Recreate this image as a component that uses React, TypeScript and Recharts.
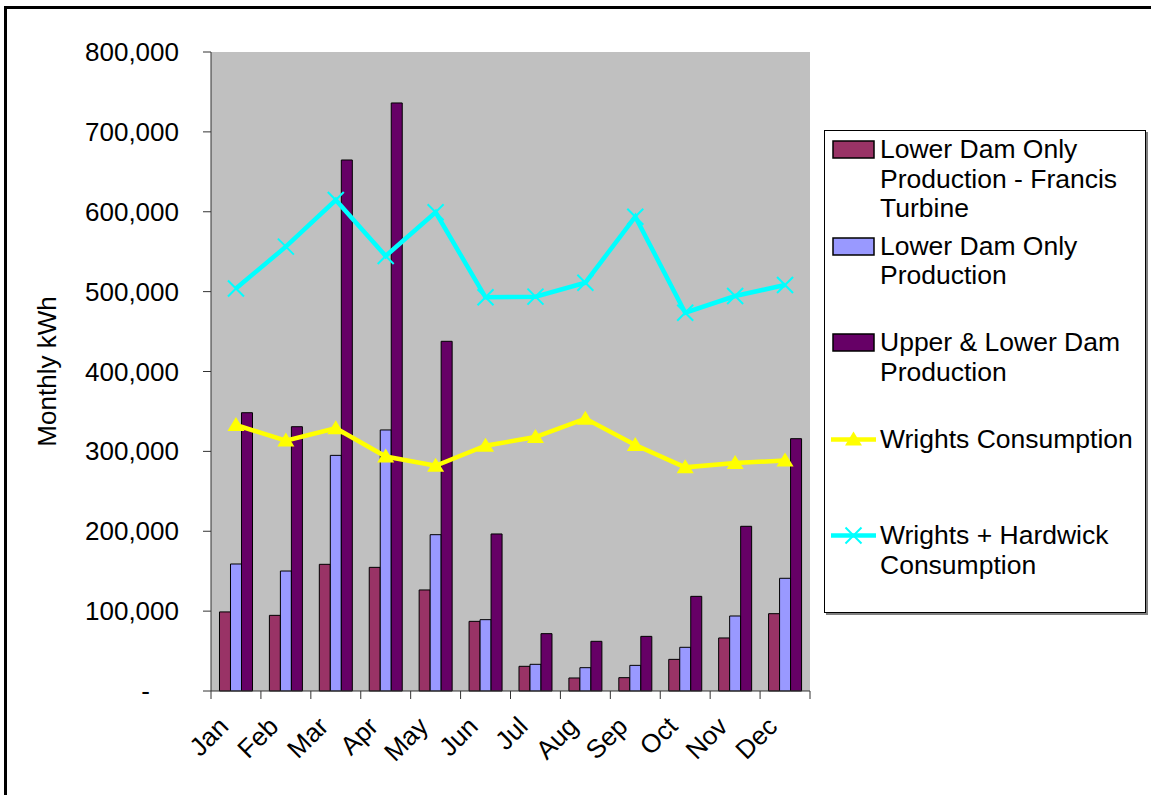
import {
  ComposedChart, Bar, Line, XAxis, YAxis, Legend, CartesianGrid,
} from 'recharts'

const FONT = '"Liberation Sans", Arial, sans-serif'

const months = ['Jan', 'Feb', 'Mar', 'Apr', 'May', 'Jun', 'Jul', 'Aug', 'Sep', 'Oct', 'Nov', 'Dec']
const francisTurbine = [99000, 94700, 158600, 154800, 126500, 87200, 30900, 16300, 16700, 39600, 66400, 96800]
const lowerDamOnly = [159000, 150200, 295000, 326800, 195700, 89300, 33400, 29200, 32100, 54700, 93900, 141100]
const upperAndLower = [348400, 330900, 664800, 736200, 437800, 196600, 71800, 62200, 68400, 118500, 206200, 315900]
const wrightsConsumption = [333000, 313500, 329000, 293500, 282000, 307000, 318000, 341000, 308000, 280000, 285500, 288500]
const wrightsHardwick = [504000, 556300, 614700, 544600, 599300, 492900, 493700, 511200, 593800, 473600, 494500, 508300]
const yTicks = [0, 100000, 200000, 300000, 400000, 500000, 600000, 700000, 800000]

const data = months.map((m, i) => ({
  month: m,
  francis: francisTurbine[i],
  lower: lowerDamOnly[i],
  upper: upperAndLower[i],
  wrights: wrightsConsumption[i],
  hardwick: wrightsHardwick[i],
}))

const series = [
  { key: 'francis', label: 'Lower Dam Only Production - Francis Turbine', color: '#993366', kind: 'bar' },
  { key: 'lower', label: 'Lower Dam Only Production', color: '#9999FF', kind: 'bar' },
  { key: 'upper', label: 'Upper & Lower Dam Production', color: '#660066', kind: 'bar' },
  { key: 'wrights', label: 'Wrights Consumption', color: '#FFFF00', kind: 'triangle' },
  { key: 'hardwick', label: 'Wrights + Hardwick Consumption', color: '#00FFFF', kind: 'cross' },
]

function Triangle({ cx, cy, fill }: { cx?: number; cy?: number; fill: string }) {
  if (cx == null || cy == null) return null
  return <polygon points={`${cx},${cy - 8} ${cx - 8.5},${cy + 6} ${cx + 8.5},${cy + 6}`} fill={fill} />
}

function Cross({ cx, cy, stroke }: { cx?: number; cy?: number; stroke: string }) {
  if (cx == null || cy == null) return null
  return (
    <g stroke={stroke} strokeWidth={2}>
      <line x1={cx - 8} y1={cy - 8} x2={cx + 8} y2={cy + 8} />
      <line x1={cx - 8} y1={cy + 8} x2={cx + 8} y2={cy - 8} />
    </g>
  )
}

function MonthTick(props: any) {
  const { x, y, payload, index } = props
  const half = payload?.offset ?? 25
  const lx = x - 6
  const ly = y + 37
  return (
    <g>
      <line x1={x - half} y1={y} x2={x - half} y2={y + 8} stroke="#333" />
      {index === months.length - 1 && (
        <line x1={x + half} y1={y} x2={x + half} y2={y + 8} stroke="#333" />
      )}
      <text
        x={lx}
        y={ly}
        textAnchor="end"
        transform={`rotate(-45, ${lx}, ${ly})`}
        fontSize={26}
        fontFamily={FONT}
        fill="#000"
      >
        {payload.value}
      </text>
    </g>
  )
}

function ValueTick(props: any) {
  const { x, y, payload } = props
  const v = payload.value as number
  // zero is shown as a dash, accounting style
  const label = v === 0 ? '-' : v.toLocaleString('en-US')
  return (
    <text x={v === 0 ? x - 29 : x} y={y} dy={9} textAnchor="end" fontSize={26} fontFamily={FONT} fill="#000">
      {label}
    </text>
  )
}

function LegendIcon({ kind, color }: { kind: string; color: string }) {
  if (kind === 'bar') {
    return <rect x={2} y={2} width={41} height={17} fill={color} stroke="#000" strokeWidth={1.5} />
  }
  return (
    <g>
      <line x1={0} y1={10.5} x2={45} y2={10.5} stroke={color} strokeWidth={4.5} />
      {kind === 'triangle'
        ? <Triangle cx={22.5} cy={10.5} fill={color} />
        : <Cross cx={22.5} cy={10.5} stroke={color} />}
    </g>
  )
}

function LegendBox() {
  return (
    <div
      style={{
        position: 'relative',
        width: 320,
        height: 481,
        background: '#fff',
        border: '1px solid #000',
        boxShadow: '2px 2px 0 #808080',
        fontFamily: FONT,
        fontSize: 26.5,
        lineHeight: '29.5px',
        color: '#000',
      }}
    >
      {series.map((s, i) => (
        <div key={s.key} style={{ position: 'absolute', left: 0, top: 4 + i * 96.5, width: 320 }}>
          <svg width={46} height={21} style={{ position: 'absolute', left: 6, top: 4 }}>
            <LegendIcon kind={s.kind} color={s.color} />
          </svg>
          <div style={{ position: 'absolute', left: 55, width: 262 }}>{s.label}</div>
        </div>
      ))}
    </div>
  )
}

export default function App() {
  return (
    <div style={{ position: 'absolute', left: 0, top: 0, width: 1151, height: 795, overflow: 'hidden', background: '#fff' }}>
      <div
        style={{
          position: 'absolute', left: 4, top: 6, width: 1200, height: 900,
          border: '3px solid #000', boxSizing: 'border-box',
        }}
      />
      <div style={{ position: 'absolute', left: 0, top: 0 }}>
        <ComposedChart
          width={1151}
          height={795}
          data={data}
          margin={{ top: 52, right: 341, bottom: 0, left: 0 }}
          barCategoryGap="17%"
          barGap={0}
        >
          <CartesianGrid fill="#C0C0C0" horizontal={false} vertical={false} />
          <XAxis
            dataKey="month"
            height={104}
            interval={0}
            tickSize={0}
            tickMargin={0}
            tickLine={false}
            axisLine={{ stroke: '#333' }}
            tick={<MonthTick />}
          />
          <XAxis xAxisId="top" dataKey="month" orientation="top" height={0} tick={false} tickLine={false} axisLine={{ stroke: '#808080' }} />
          <YAxis
            width={211}
            domain={[0, 800000]}
            ticks={yTicks}
            interval={0}
            tickSize={8}
            tickMargin={24}
            tickLine={{ stroke: '#333' }}
            axisLine={{ stroke: '#333' }}
            tick={<ValueTick />}
            label={{
              value: 'Monthly kWh', angle: -90, position: 'insideLeft', offset: 47,
              style: { textAnchor: 'middle', fontSize: 26, fontFamily: FONT, fill: '#000' },
            }}
          />
          <YAxis yAxisId="right" orientation="right" width={0} tick={false} tickLine={false} axisLine={{ stroke: '#808080' }} />
          <Bar dataKey="francis" name={series[0].label} fill={series[0].color} stroke="#000" strokeWidth={1} isAnimationActive={false} />
          <Bar dataKey="lower" name={series[1].label} fill={series[1].color} stroke="#000" strokeWidth={1} isAnimationActive={false} />
          <Bar dataKey="upper" name={series[2].label} fill={series[2].color} stroke="#000" strokeWidth={1} isAnimationActive={false} />
          <Line
            dataKey="wrights"
            name={series[3].label}
            stroke={series[3].color}
            strokeWidth={4.5}
            dot={(p: any) => <Triangle key={`t${p.index}`} cx={p.cx} cy={p.cy} fill={series[3].color} />}
            activeDot={false}
            isAnimationActive={false}
          />
          <Line
            dataKey="hardwick"
            name={series[4].label}
            stroke={series[4].color}
            strokeWidth={4.5}
            dot={(p: any) => <Cross key={`c${p.index}`} cx={p.cx} cy={p.cy} stroke={series[4].color} />}
            activeDot={false}
            isAnimationActive={false}
          />
          <Legend
            layout="horizontal"
            verticalAlign="middle"
            align="center"
            content={() => <LegendBox />}
            wrapperStyle={{ left: 824, top: 130, width: 322, height: 484 }}
          />
        </ComposedChart>
      </div>
    </div>
  )
}
